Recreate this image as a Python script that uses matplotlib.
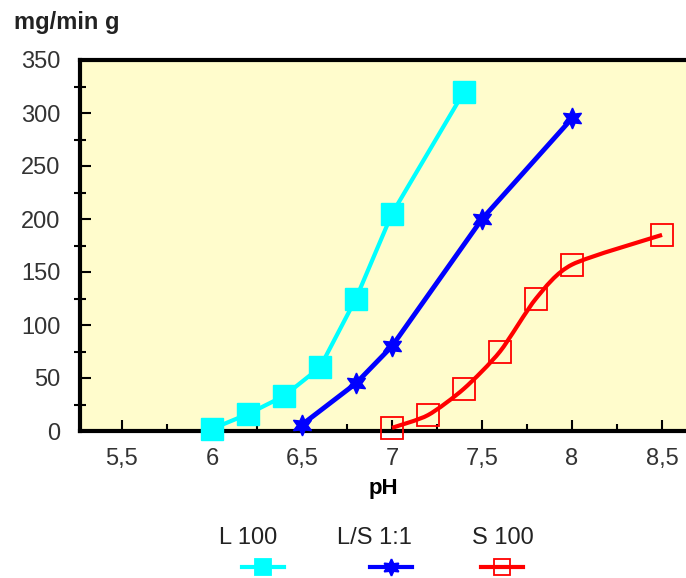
import matplotlib.pyplot as plt
import numpy as np
from matplotlib.lines import Line2D
from matplotlib.path import Path
from matplotlib.patches import PathPatch

plt.rcParams['font.family'] = ['Liberation Sans', 'DejaVu Sans']

# data
ph_L100 = [6.0, 6.2, 6.4, 6.6, 6.8, 7.0, 7.4]
val_L100 = [2, 16, 33, 60, 125, 205, 320]

ph_LS = [6.5, 6.8, 7.0, 7.5, 8.0]
val_LS = [6, 45, 80, 200, 295]

ph_S100 = [7.0, 7.2, 7.4, 7.6, 7.8, 8.0, 8.5]
val_S100 = [3, 15, 40, 75, 125, 157, 185]

labels = ['L 100', 'L/S 1:1', 'S 100']
colors = ['#00ffff', '#0000ff', '#ff0000']
bg = '#fffccc'

W, H = 686, 578
fig = plt.figure(figsize=(W / 100, H / 100), dpi=100)
ax = fig.add_axes([80 / W, 147 / H, 606 / W, 371 / H])
ax.set_facecolor(bg)


def smooth_path(x, y, k=8.0):
    # catmull-rom like curve -> cubic bezier, drawn by matplotlib Path
    x = np.asarray(x, float)
    y = np.asarray(y, float)
    verts = [(x[0], y[0])]
    codes = [Path.MOVETO]
    n = len(x)
    for i in range(n - 1):
        i0 = max(i - 1, 0)
        i3 = min(i + 2, n - 1)
        c1 = (x[i] + (x[i + 1] - x[i0]) / k, y[i] + (y[i + 1] - y[i0]) / k)
        c2 = (x[i + 1] - (x[i3] - x[i]) / k, y[i + 1] - (y[i3] - y[i]) / k)
        verts += [c1, c2, (x[i + 1], y[i + 1])]
        codes += [Path.CURVE4] * 3
    return Path(verts, codes)


star = (6, 1, 0)

ax.plot(ph_L100, val_L100, color=colors[0], lw=3, marker='s', ms=16,
        mec=colors[0], mfc=colors[0], clip_on=False, zorder=3)
ax.plot(ph_LS, val_LS, color=colors[1], lw=3.5, marker=star, ms=15,
        mec=colors[1], mfc=colors[1], clip_on=False, zorder=3)
ax.add_patch(PathPatch(smooth_path(ph_S100, val_S100), fill=False,
                       ec=colors[2], lw=3, zorder=3))
ax.plot(ph_S100, val_S100, ls='none', marker='s', ms=16, mfc='none',
        mec=colors[2], mew=1.3, clip_on=False, zorder=4)

ax.set_xlim(5.267, 8.633)
ax.set_ylim(0, 350)
ax.set_xticks([5.5, 6, 6.5, 7, 7.5, 8, 8.5])
ax.set_xticklabels(['5,5', '6', '6,5', '7', '7,5', '8', '8,5'])
ax.set_xticks(np.arange(5.75, 8.6, 0.5), minor=True)
ax.set_yticks(np.arange(0, 351, 50))
ax.set_yticks(np.arange(25, 350, 50), minor=True)

ax.tick_params(axis='both', which='major', direction='in', length=8,
               width=1.5, labelsize=17, colors='black')
ax.tick_params(axis='y', which='minor', direction='inout', length=8, width=1.5)
ax.tick_params(axis='x', which='minor', direction='in', length=5, width=1.5)
ax.tick_params(axis='x', pad=12)
ax.tick_params(axis='y', pad=14)
for lbl in ax.get_xticklabels() + ax.get_yticklabels():
    lbl.set_color('#333333')

for s in ['left', 'bottom', 'top']:
    ax.spines[s].set_linewidth(3)
ax.spines['right'].set_visible(False)

ax.set_xlabel('pH', fontsize=16, fontweight='bold', labelpad=6)
fig.text(14 / W, 1 - 22 / H, 'mg/min g', fontsize=17, fontweight='bold',
         ha='left', va='center', color='#222222')

# legend: labels above handles
text_x = [248, 374, 503]
hand_x = [263, 391, 502]
markers = ['s', star, 's']
for i in range(3):
    fig.text(text_x[i] / W, 1 - 538 / H, labels[i], fontsize=17,
             ha='center', va='center', color='#222222')
    xc = hand_x[i] / W
    yc = 1 - 567 / H
    dx = 21 / W
    fc = 'none' if i == 2 else colors[i]
    fig.add_artist(Line2D([xc - dx, xc, xc + dx], [yc, yc, yc],
                          color=colors[i], lw=3, marker=markers[i],
                          markevery=[1], ms=12, mfc=fc, mec=colors[i],
                          mew=1.3, transform=fig.transFigure))

fig.savefig('out.png', dpi=100)
